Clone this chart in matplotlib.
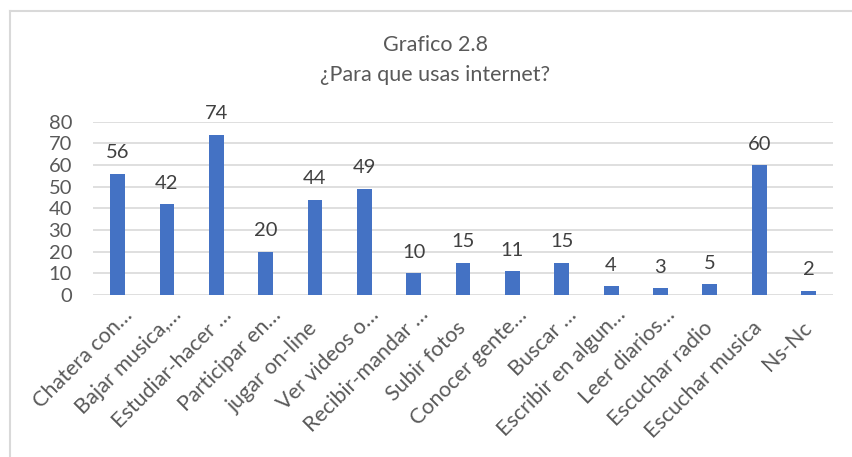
import matplotlib.pyplot as plt
import matplotlib.transforms as mtransforms
from matplotlib.lines import Line2D
import numpy as np

plt.rcParams['font.family'] = ['Lato', 'DejaVu Sans']

categorias = [
    "Chatera con\u2026", "Bajar musica,\u2026", "Estudiar-hacer \u2026",
    "Participar en\u2026", "jugar on-line", "Ver videos o\u2026",
    "Recibir-mandar \u2026", "Subir fotos", "Conocer gente\u2026",
    "Buscar \u2026", "Escribir en algun\u2026", "Leer diarios\u2026",
    "Escuchar radio", "Escuchar musica", "Ns-Nc",
]
valores = [56, 42, 74, 20, 44, 49, 10, 15, 11, 15, 4, 3, 5, 60, 2]

azul = "#4472C4"
gris_texto = "#595959"
gris_linea = "#D9D9D9"

fig = plt.figure(figsize=(8.52, 4.57), dpi=100)
ax = fig.add_axes([0.109, 0.3545, 0.869, 0.379])

x = np.arange(len(categorias))
barras = ax.bar(x, valores, width=0.3, color=azul, zorder=3)

for xi, v in zip(x, valores):
    ax.annotate(str(v), (xi, v), xytext=(0, 9), textcoords="offset points",
                ha="center", va="bottom", fontsize=14.5, color="#404040")

ax.set_xlim(-0.5, len(categorias) - 0.5)
ax.set_ylim(0, 80)
ax.set_yticks(range(0, 81, 10))
ax.yaxis.grid(True, color=gris_linea, linewidth=1.2, zorder=0)
ax.set_axisbelow(True)
for s in ax.spines.values():
    s.set_visible(False)
ax.tick_params(axis="both", length=0, labelsize=14.5, colors=gris_texto)
ax.tick_params(axis="y", pad=15)
ax.tick_params(axis="x", pad=0, labelsize=15.5)

# etiquetas inclinadas: extremo derecho de la línea base junto a cada barra;
# las recortadas con "…" quedan un poco más arriba
ax.set_xticks(x)
ax.set_xticklabels(categorias, rotation=45, ha="right", va="baseline",
                   rotation_mode="anchor")
for lbl in ax.get_xticklabels():
    if lbl.get_text().endswith("\u2026"):
        dx, dy = 0.16, -0.21
    else:
        dx, dy = 0.04, -0.34
    lbl.set_transform(lbl.get_transform() +
                      mtransforms.ScaledTranslation(dx, dy, fig.dpi_scale_trans))

fig.text(0.511, 0.9015, "Grafico 2.8", ha="center", va="center",
         fontsize=15.5, color=gris_texto)
fig.text(0.511, 0.836, "\u00bfPara que usas internet?", ha="center", va="center",
         fontsize=15.5, color=gris_texto)

# marco del gráfico
fig.add_artist(Line2D([9.5 / 852, 9.5 / 852], [0, 1 - 10.5 / 457],
                      transform=fig.transFigure, color=gris_linea, linewidth=1.5))
fig.add_artist(Line2D([9.5 / 852, 1], [1 - 10.5 / 457, 1 - 10.5 / 457],
                      transform=fig.transFigure, color=gris_linea, linewidth=1.5))

fig.savefig("out.png", dpi=100)
